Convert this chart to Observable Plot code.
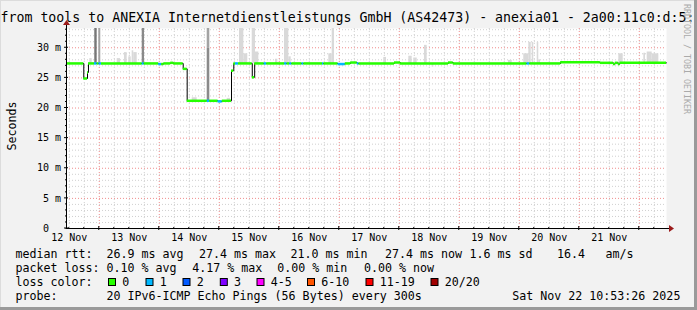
<!DOCTYPE html>
<html><head><meta charset="utf-8">
<script src="https://cdn.jsdelivr.net/npm/d3@7"></script>
<script src="https://cdn.jsdelivr.net/npm/@observablehq/plot@0.6"></script>
<style>
html,body{margin:0;padding:0;background:#f2f2f2;}
#chart{width:697px;height:310px;overflow:hidden;position:relative;}
svg text{font-family:"DejaVu Sans Mono";}
</style></head><body><div id="chart"></div>
<script>
// time axis: fractional day of November 2025
const xStart = 12.4538, xEnd = 22.4538;
const dayLabels = [12.5, 13.5, 14.5, 15.5, 16.5, 17.5, 18.5, 19.5, 20.5, 21.5];
const yTicks = [0, 5, 10, 15, 20, 25, 30];
const yMax = 33.2;

// median rtt (ms), step segments: start day, value, lost pings (of 20)
const medianStart = [12.4538, 12.742, 12.804, 12.820, 12.920, 12.965, 12.995, 13.037, 13.716, 13.750,
  13.990, 14.040, 14.075, 14.190, 14.240, 14.399, 14.465, 14.800, 14.840, 14.980,
  15.050, 15.204, 15.242, 15.270, 15.320, 15.550, 15.590, 15.750, 15.790, 16.090,
  16.130, 16.175, 16.210, 16.380, 16.410, 16.720, 16.745, 16.980, 17.100, 17.190,
  17.300, 17.330, 17.920, 18.020, 18.820, 18.900, 20.130, 20.175, 20.690, 21.350,
  21.570, 21.600, 21.650, 21.680];
const medianRtt = [27.4, 24.9, 25.9, 27.4, 27.4, 27.4, 27.4, 27.4, 27.4, 27.4,
  27.3, 27.3, 27.4, 27.5, 27.4, 26.5, 21.2, 21.2, 21.2, 21.1,
  21.2, 26.2, 27.4, 27.4, 27.4, 25.1, 27.4, 27.4, 27.4, 27.4,
  27.4, 27.4, 27.4, 27.4, 27.4, 27.4, 27.4, 27.3, 27.4, 27.55,
  27.4, 27.4, 27.55, 27.4, 27.55, 27.4, 27.4, 27.4, 27.6, 27.5,
  27.3, 27.5, 27.3, 27.5];
const medianLoss = [0, 0, 0, 0, 1, 0, 1, 0, 1, 0,
  1, 0, 0, 0, 0, 0, 0, 1, 0, 1,
  0, 0, 0, 1, 0, 0, 0, 1, 0, 1,
  0, 1, 0, 1, 0, 1, 0, 1, 0, 0,
  1, 0, 0, 0, 0, 0, 1, 0, 0, 0,
  0, 0, 0, 0];
const medianEnd = 22.4538;

// smoke (spread of the 20 pings)
const smokeStart = [12.842, 12.925, 12.992, 13.299, 13.420, 13.492, 13.548, 13.575, 13.716, 14.549,
  14.799, 14.799, 15.132, 15.337, 15.409, 15.549, 15.604, 15.937, 16.087, 16.159,
  16.826, 16.882, 17.742, 18.159, 18.242, 18.420, 18.549, 19.820, 20.075, 20.159,
  20.215, 20.299, 20.325, 21.659, 22.076, 22.132, 22.215];
const smokeEnd = [12.882, 12.965, 13.025, 13.354, 13.465, 13.532, 13.575, 13.632, 13.754, 14.632,
  14.842, 14.842, 15.187, 15.409, 15.475, 15.604, 15.659, 15.975, 16.159, 16.199,
  16.882, 16.920, 17.787, 18.215, 18.299, 18.465, 18.575, 19.882, 20.159, 20.199,
  20.242, 20.325, 20.354, 21.732, 22.104, 22.215, 22.326];
const smokeLow = [27.4, 27.4, 27.4, 27.4, 27.4, 27.4, 27.4, 27.4, 27.4, 21.2,
  21.2, 29.9, 21.2, 27.4, 27.4, 27.4, 27.4, 27.4, 27.4, 27.4,
  27.4, 27.4, 27.4, 27.4, 27.4, 27.4, 26.8, 27.4, 27.4, 27.4,
  27.4, 27.4, 27.4, 27.4, 27.4, 27.4, 27.4];
const smokeHigh = [28.2, 33.2, 33.2, 28.2, 29.2, 28.5, 29.5, 29.2, 33.2, 21.7,
  29.9, 33.2, 21.6, 33.2, 29.0, 33.2, 29.3, 28.1, 33.2, 28.5,
  29.0, 33.2, 28.4, 28.6, 28.3, 30.4, 27.4, 27.9, 29.0, 30.9,
  30.9, 30.9, 28.0, 29.0, 29.1, 29.3, 29.0];
const smokeShade = ["#d9d9d9", "#777777", "#a3a3a3", "#d9d9d9", "#d9d9d9", "#d9d9d9", "#d9d9d9", "#d9d9d9", "#8a8a8a", "#d9d9d9",
  "#8a8a8a", "#a3a3a3", "#d9d9d9", "#d9d9d9", "#d9d9d9", "#d9d9d9", "#d9d9d9", "#d9d9d9", "#d9d9d9", "#d9d9d9",
  "#d9d9d9", "#d9d9d9", "#d9d9d9", "#d9d9d9", "#d9d9d9", "#d9d9d9", "#d9d9d9", "#d9d9d9", "#d9d9d9", "#d9d9d9",
  "#d9d9d9", "#d9d9d9", "#d9d9d9", "#d9d9d9", "#d9d9d9", "#d9d9d9", "#d9d9d9"];

// loss colour legend
const lossLabels = ["0", "1", "2", "3", "4-5", "6-10", "11-19", "20/20"];
const lossColors = ["#26ff00", "#00b8ff", "#0059ff", "#7e00ff", "#ff00ff", "#ff5500", "#ff0000", "#a00000"];
const lossBoxX = [108, 145.5, 182.5, 219.8, 256.5, 307, 365.5, 430.5];

// legend text rows
const legendRows = [
  [[16, "median rtt:"], [107, "26.9 ms avg"], [199.5, "27.4 ms max"], [291, "21.0 ms min"], [385.5, "27.4 ms now"], [470, "1.6 ms sd"], [557.5, "16.4"], [606, "am/s"]],
  [[16, "packet loss:"], [107, "0.10 % avg"], [192.8, "4.17 % max"], [277.8, "0.00 % min"], [364.5, "0.00 % now"]],
  [[16, "loss color:"]],
  [[16, "probe:"], [107, "20 IPv6-ICMP Echo Pings (56 Bytes) every 300s"], [512.8, "Sat Nov 22 10:53:26 2025"]]
];
const titleText = "from tools to ANEXIA Internetdienstleistungs GmbH (AS42473) - anexia01 - 2a00:11c0:d:5:3";
const yTitle = "Seconds";
const watermark = "RRDTOOL / TOBI OETIKER";

// derived tables
const segIdx = d3.range(medianStart.length);
const segEnd = i => (i + 1 < medianStart.length ? medianStart[i + 1] : medianEnd);
const stepPts = segIdx.map(i => ({x: medianStart[i], y: medianRtt[i]})).concat([{x: medianEnd, y: medianRtt[medianRtt.length - 1]}]);
const smokeIdx = d3.range(smokeStart.length);
const minorX = d3.range(12.5, 22.5, 0.25).filter(d => Math.abs(d - Math.round(d)) > 1e-6);
const majorX = d3.range(13, 23, 1);
const minorY = d3.range(1, 34).filter(d => d % 5 !== 0);
const majorY = [5, 10, 15, 20, 25, 30];

const chart = Plot.plot({
  width: 697, height: 310,
  marginLeft: 66, marginRight: 31, marginTop: 28, marginBottom: 82,
  x: {domain: [xStart, xEnd]},
  y: {domain: [0, yMax]},
  color: {type: "identity"},
  style: {background: "#f2f2f2", fontFamily: "DejaVu Sans Mono", fontSize: "10px", color: "#000", overflow: "visible"},
  marks: [
    Plot.frame({fill: "#ffffff", stroke: null}),
    Plot.ruleX(minorX, {stroke: "#cfcfcf", strokeDasharray: "1,2"}),
    Plot.ruleY(minorY, {stroke: "#cfcfcf", strokeDasharray: "1,2"}),
    Plot.ruleX(majorX, {stroke: "#f08c8c", strokeDasharray: "1,2"}),
    Plot.ruleY(majorY, {stroke: "#f08c8c", strokeDasharray: "1,2"}),
    Plot.rect(smokeIdx, {x1: i => smokeStart[i], x2: i => smokeEnd[i], y1: i => smokeLow[i], y2: i => smokeHigh[i], fill: i => smokeShade[i]}),
    Plot.line(stepPts, {x: "x", y: "y", curve: "step-after", stroke: "#000", strokeWidth: 1}),
    Plot.ruleY(segIdx, {y: i => medianRtt[i], x1: i => medianStart[i], x2: segEnd, stroke: i => lossColors[medianLoss[i]], strokeWidth: 2.5}),
    Plot.axisX(dayLabels, {tickFormat: d => `${Math.floor(d)} Nov`, tickSize: 0, tickPadding: 5.5, label: null}),
    Plot.axisY(yTicks, {tickFormat: d => d === 0 ? "0\u00a0\u00a0" : `${d} m`, tickSize: 0, tickPadding: 5.5, label: null})
  ]
});
document.getElementById("chart").appendChild(chart);

const svg = d3.select(chart);
const xs = chart.scale("x"), ys = chart.scale("y");
const x0 = xs.apply(xStart), x1 = xs.apply(xEnd), y0 = ys.apply(0), yTop = ys.apply(yMax);

// axis ticks
const g = svg.append("g");
majorX.forEach(d => g.append("line").attr("x1", xs.apply(d)).attr("x2", xs.apply(d)).attr("y1", y0 - 2).attr("y2", y0 + 2).attr("stroke", "#000"));
minorX.forEach(d => g.append("line").attr("x1", xs.apply(d)).attr("x2", xs.apply(d)).attr("y1", y0 - 1).attr("y2", y0 + 1).attr("stroke", "#000"));
majorY.concat([0]).forEach(d => g.append("line").attr("y1", ys.apply(d)).attr("y2", ys.apply(d)).attr("x1", x0 - 2).attr("x2", x0 + 2).attr("stroke", "#000"));
minorY.forEach(d => g.append("line").attr("y1", ys.apply(d)).attr("y2", ys.apply(d)).attr("x1", x0 - 1).attr("x2", x0 + 1).attr("stroke", "#000"));
// axis lines + arrows
g.append("line").attr("x1", x0 - 0.5).attr("x2", x1 + 3).attr("y1", y0 + 0.5).attr("y2", y0 + 0.5).attr("stroke", "#000");
g.append("line").attr("x1", x0 + 0.5).attr("x2", x0 + 0.5).attr("y1", y0 + 0.5).attr("y2", yTop - 3).attr("stroke", "#000");
g.append("path").attr("d", `M${x1 + 3},${y0 - 3}L${x1 + 8},${y0 + 0.5}L${x1 + 3},${y0 + 4}Z`).attr("fill", "#9b1b1b");
g.append("path").attr("d", `M${x0 - 3},${yTop - 3}L${x0 + 0.5},${yTop - 8}L${x0 + 4},${yTop - 3}Z`).attr("fill", "#9b1b1b");

// title, y title, watermark
const tg = svg.append("g").attr("text-anchor", "start");
tg.append("text").attr("x", 0.5).attr("y", 22).attr("font-size", "13.25px").attr("fill", "#000").attr("text-anchor", "start").style("white-space", "pre").text(titleText);
tg.append("text").attr("transform", "translate(15.5,126) rotate(-90)").attr("text-anchor", "middle").attr("font-size", "11.65px").attr("fill", "#000").text(yTitle);
tg.append("text").attr("transform", "translate(683.5,4) rotate(90)").attr("text-anchor", "start").attr("font-size", "8.3px").attr("fill", "#aaaaaa").text(watermark);

// legend
const rowBase = [257.5, 271.5, 285.5, 299.5];
legendRows.forEach((row, r) => row.forEach(([x, t]) => tg.append("text").attr("x", x - 0.6).attr("y", rowBase[r]).attr("text-anchor", "start").attr("font-size", "11.65px").attr("fill", "#000").style("white-space", "pre").text(t)));
lossLabels.forEach((lab, i) => {
  tg.append("rect").attr("x", lossBoxX[i] + 0.5).attr("y", 278.5).attr("width", 7).attr("height", 7).attr("fill", lossColors[i]).attr("stroke", "#000");
  tg.append("text").attr("x", lossBoxX[i] + 14.3).attr("y", rowBase[2]).attr("text-anchor", "start").attr("font-size", "11.65px").attr("fill", "#000").text(lab);
});

// frame shading
svg.append("rect").attr("x", 0).attr("y", 0).attr("width", 697).attr("height", 1).attr("fill", "#dcdcdc");
svg.append("rect").attr("x", 0).attr("y", 0).attr("width", 1).attr("height", 310).attr("fill", "#dcdcdc");
svg.append("rect").attr("x", 694).attr("y", 0).attr("width", 3).attr("height", 310).attr("fill", "#9a9a9a");
svg.append("rect").attr("x", 0).attr("y", 307).attr("width", 697).attr("height", 3).attr("fill", "#9a9a9a");
</script></body></html>
